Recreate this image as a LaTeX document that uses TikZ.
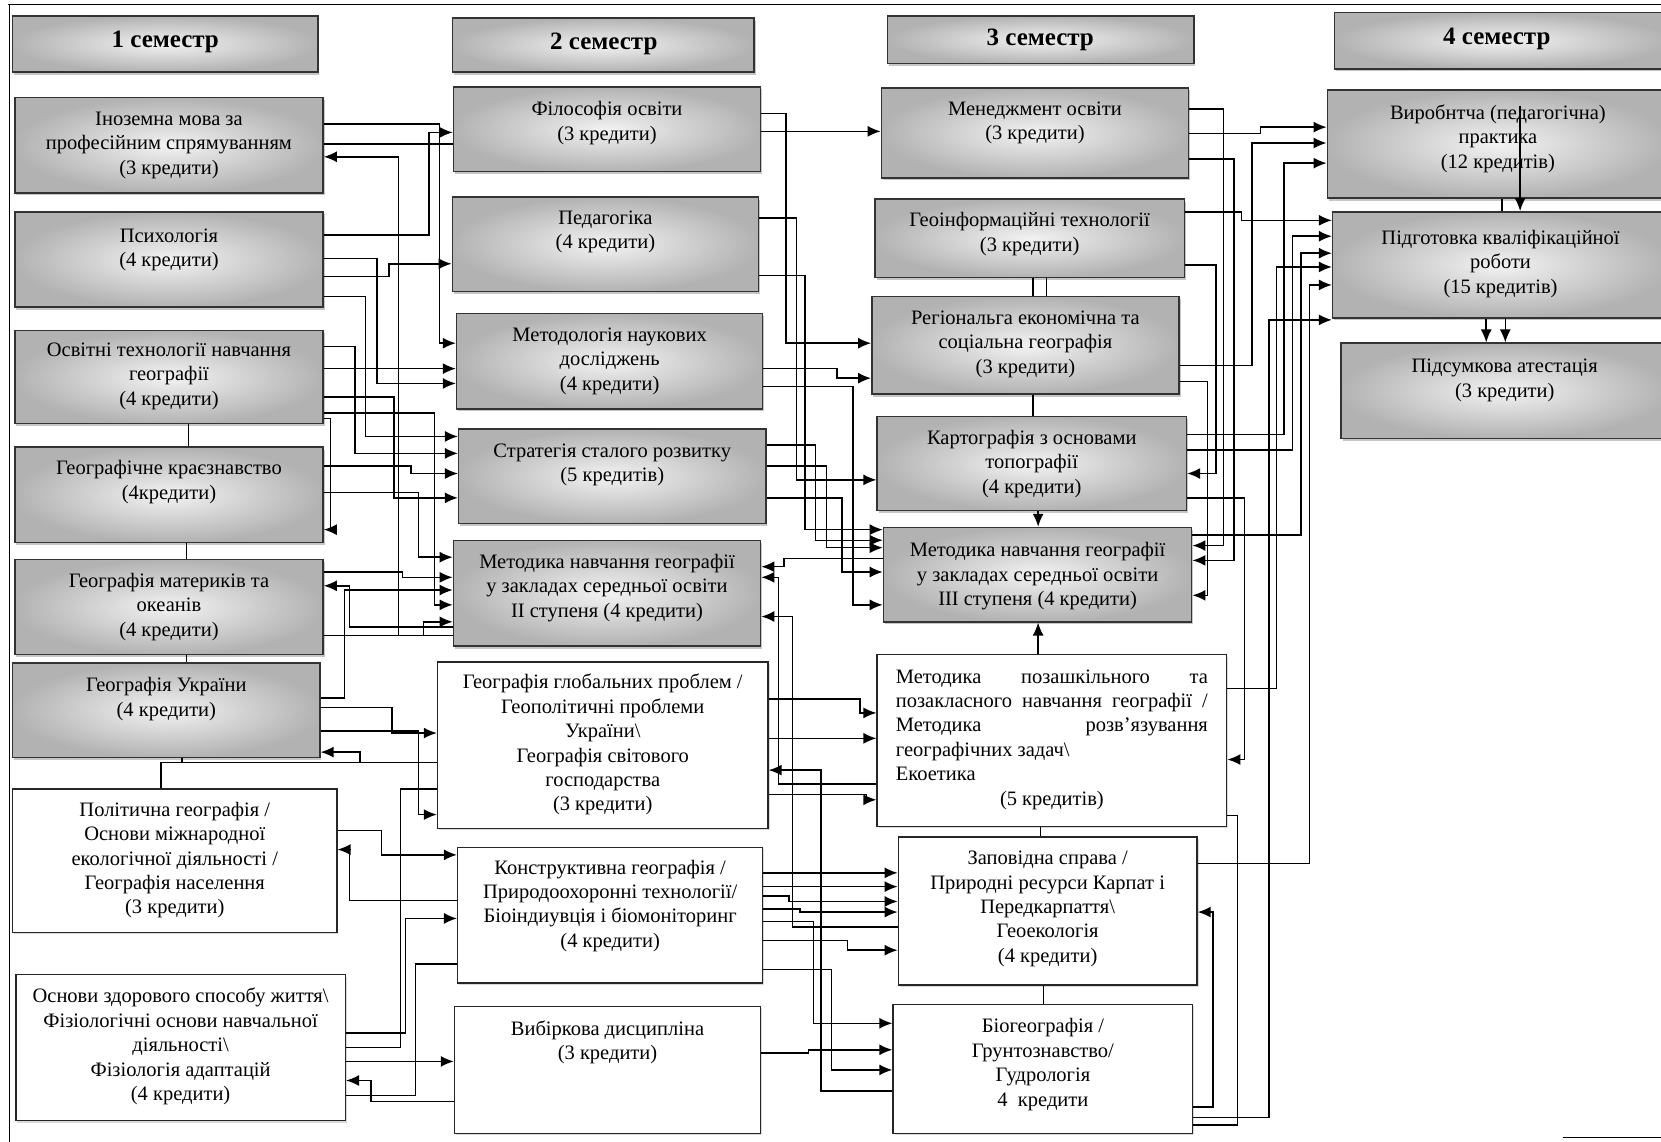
\documentclass[tikz,border=0pt]{standalone}
\usepackage{fontspec}
\setmainfont{Liberation Serif}
\usetikzlibrary{fit,shadows,arrows.meta,calc}
\newcommand\mkbox[8]{%
  \node[#1, fit={(#3,#4) (#5,#6)}] (#2) {};
  \node[txt] (#2t) at ({(#3+#5)/2},#7) {#8};}
\newcommand\cnx[6][arr]{\draw[#1] (#2 |- 0,#3) -| (#4,#6) -- (#5 |- 0,#6);}
\begin{document}
\begin{tikzpicture}[x=1.0593pt, y={(0pt,-1.0593pt)},
  gbox/.style={draw=black!80, line width=1.5pt, inner sep=0pt, inner color=gray!10, outer color=gray!60,
    drop shadow={shadow xshift=1.5pt, shadow yshift=-2.5pt, opacity=0.45, fill=gray}},
  wbox/.style={draw=black!85, line width=1.4pt, inner sep=0pt, fill=white,
    drop shadow={shadow xshift=1.5pt, shadow yshift=-2pt, opacity=0.3, fill=gray}},
  txt/.style={align=center, inner sep=0pt, font=\fontsize{20.5}{24.4}\selectfont},
  htxt/.style={align=center, inner sep=0pt, font=\bfseries\fontsize{25}{28}\selectfont},
  ln/.style={line width=1.5pt, black},
  arr/.style={ln, -{Latex[length=13pt,width=11pt]}},
  frame/.style={line width=1.2pt, black}]
\useasboundingbox (0,0) rectangle (1568,1078);
\draw[frame] (8,4) -- (1568,4);
\draw[frame] (9,4) -- (9,1078);
\draw[frame] (1475,1074) -- (1568,1074);
% headers
\node[gbox, fit={(12,15) (300,68)}] (h1) {};
\node[htxt] (h1t) at (156,40) {1 семестр};
\node[gbox, fit={(427,17) (712,68)}] (h2) {};
\node[htxt] (h2t) at (570,41) {2 семестр};
\node[gbox, fit={(838,15) (1127,60)}] (h3) {};
\node[htxt] (h3t) at (982,38) {3 семестр};
\node[gbox, fit={(1260,12) (1575,65)}] (h4) {};
\node[htxt] (h4t) at (1413,37) {4 семестр};
% column 1
\mkbox{gbox}{ino}{14}{92}{305}{182}{137}{Іноземна мова за\\професійним спрямуванням\\(3 кредити)}
\mkbox{gbox}{psy}{14}{200}{305}{290}{236}{Психологія\\(4 кредити)}
\mkbox{gbox}{osv}{14}{312}{305}{400}{355}{Освітні технології навчання\\географії\\(4 кредити)}
\mkbox{gbox}{kraj}{14}{422}{305}{512}{455}{Географічне краєзнавство\\(4кредити)}
\mkbox{gbox}{mat}{14}{528}{305}{618}{573}{Географія материків та\\океанів\\(4 кредити)}
\mkbox{gbox}{ukr}{12}{626}{302}{715}{660}{Географія України\\(4 кредити)}
\mkbox{wbox}{pol}{12}{745}{318}{880}{812}{Політична географія /\\Основи міжнародної\\екологічної діяльності /\\Географія населення\\(3 кредити)}
\mkbox{wbox}{osn}{15}{920}{326}{1058}{988}{Основи здорового способу життя\textbackslash\\Фізіологічні основи навчальної\\діяльності\textbackslash\\Фізіологія адаптацій\\(4 кредити)}
% column 2
\mkbox{gbox}{fil}{428}{82}{718}{162}{116}{Філософія освіти\\(3 кредити)}
\mkbox{gbox}{ped}{427}{186}{716}{275}{219}{Педагогіка\\(4 кредити)}
\mkbox{gbox}{metod}{431}{296}{720}{386}{341}{Методологія наукових\\досліджень\\(4 кредити)}
\mkbox{gbox}{str}{433}{405}{723}{494}{439}{Стратегія сталого розвитку\\(5 кредитів)}
\mkbox{gbox}{met2}{428}{510}{718}{610}{555}{Методика навчання географії\\у закладах середньої освіти\\II ступеня (4 кредити)}
\mkbox{wbox}{gg}{413}{625}{725}{782}{703}{Географія глобальних проблем /\\Геополітичні проблеми\\України\textbackslash\\Географія світового\\господарства\\(3 кредити)}
\mkbox{wbox}{kon}{432}{800}{720}{928}{855}{Конструктивна географія /\\Природоохоронні технології/\\Біоіндиувція і біомоніторинг\\(4 кредити)}
\mkbox{wbox}{vib}{429}{950}{718}{1070}{984}{Вибіркова дисципліна\\(3 кредити)}
% column 3
\mkbox{gbox}{men}{832}{83}{1122}{168}{116}{Менеджмент освіти\\(3 кредити)}
\mkbox{gbox}{geo}{826}{188}{1118}{262}{221}{Геоінформаційні технології\\(3 кредити)}
\mkbox{gbox}{reg}{823}{280}{1113}{372}{325}{Регіональга економічна та\\соціальна географія\\(3 кредити)}
\mkbox{gbox}{kart}{828}{393}{1120}{482}{438}{Картографія з основами\\топографії\\(4 кредити)}
\mkbox{gbox}{met3}{834}{498}{1125}{587}{544}{Методика навчання географії\\у закладах середньої освіти\\III ступеня (4 кредити)}
\node[wbox, fit={(828,618) (1158,780)}] (moz) {};
\node[txt, align=left] (mozt) at (993,698) {\parbox{312pt}{\hyphenpenalty=10000 \exhyphenpenalty=10000
Методика позашкільного та\linebreak позакласного навчання географії /\linebreak Методика розв'язування\linebreak географічних задач\textbackslash\\Екоетика\par\centering (5 кредитів)}};
\mkbox{wbox}{zap}{848}{790}{1130}{930}{858}{Заповідна справа /\\Природні ресурси Карпат і\\Передкарпаття\textbackslash\\Геоекологія\\(4 кредити)}
\mkbox{wbox}{bio}{843}{948}{1126}{1070}{1005}{Біогеографія /\\Грунтознавство/\\Гудрологія\\4~~кредити}
% column 4
\mkbox{gbox}{vyr}{1253}{85}{1575}{187}{131}{Виробнтча (педагогічна)\\практика\\(12 кредитів)}
\mkbox{gbox}{pid}{1258}{200}{1575}{300}{249}{Підготовка кваліфікаційної\\роботи\\(15 кредитів)}
\mkbox{gbox}{pids}{1266}{324}{1575}{414}{359}{Підсумкова атестація\\(3 кредити)}
% column 1 joins
\draw[ln] (osv.south -| 178,0) -- (kraj.north -| 178,0);
\draw[ln] (kraj.south -| 176,0) -- (mat.north -| 176,0);
\draw[ln] (mat.south -| 176,0) -- (ukr.north -| 176,0);
\draw[ln] (ukr.south -| 172,0) -- (172,720);
\draw[ln] (pol.north -| 152,0) |- (340,720);
% column 1 -> column 2
\cnx{psy.east}{222}{405}{fil.west}{125}
\cnx{ino.east}{117}{415}{metod.west}{324}
\draw[ln] (ino.east |- 0,136) -- (fil.west |- 0,136);
\cnx{psy.east}{261}{367}{ped.west}{249}
\draw[arr] (osv.east |- 0,348) -- (metod.west |- 0,348);
\cnx{psy.east}{244}{356}{metod.west}{362}
\cnx{psy.east}{280}{345}{str.west}{412}
\cnx{osv.east}{327}{335}{str.west}{428}
\cnx{kraj.east}{440}{388}{str.west}{447}
\cnx{osv.east}{375}{372}{str.west}{470}
\cnx{kraj.east}{465}{395}{met2.west}{526}
\cnx{mat.east}{540}{380}{met2.west}{545}
\cnx{ukr.east}{659}{325}{met2.west}{557}
\cnx{osv.east}{390}{410}{met2.west}{571}
\cnx{mat.east}{600}{400}{met2.west}{587}
\cnx{ukr.east}{668}{370}{gg.west}{692}
\cnx{ukr.east}{690}{395}{gg.west}{769}
\cnx{pol.east}{784}{360}{kon.west}{807}
\cnx{osn.east}{975}{383}{kon.west}{867}
\draw[arr] (osn.east |- 0,1002) -- (vib.west |- 0,1002);
\cnx[ln]{osn.east}{1034}{392}{kon.west}{910}
\cnx[ln]{osn.east}{989}{378}{gg.west}{745}
% into column 1
\cnx{met2.west}{600}{376}{ino.east}{148}
\cnx{osv.east}{395}{312}{kraj.east}{500}
\cnx{met2.west}{592}{330}{mat.east}{553}
\cnx{gg.west}{720}{340}{ukr.east}{710}
\cnx{kon.west}{850}{330}{pol.east}{802}
\cnx{vib.west}{1040}{350}{osn.east}{1020}
% column 2 -> column 3
\draw[arr] (fil.east |- 0,124) -- (men.west |- 0,124);
\cnx{fil.east}{107}{742}{reg.west}{324}
\cnx{metod.east}{348}{790}{reg.west}{357}
\cnx{ped.east}{206}{752}{kart.west}{453}
\cnx{ped.east}{260}{760}{met3.west}{500}
\cnx{str.east}{420}{770}{met3.west}{510}
\cnx{str.east}{440}{780}{met3.west}{517}
\cnx{str.east}{470}{795}{met3.west}{540}
\cnx{metod.east}{365}{805}{met3.west}{571}
\draw[arr] (gg.east |- 0,697) -- (moz.west |- 0,697);
\cnx{gg.east}{660}{812}{moz.west}{673}
\cnx{gg.east}{750}{818}{moz.west}{755}
\draw[arr] (kon.east |- 0,824) -- (zap.west |- 0,824);
\draw[arr] (kon.east |- 0,837) -- (zap.west |- 0,837);
\cnx{kon.east}{846}{745}{zap.west}{851}
\cnx{kon.east}{858}{755}{zap.west}{861}
\cnx{kon.east}{870}{768}{bio.west}{966}
\cnx{kon.east}{888}{800}{zap.west}{897}
\cnx{vib.east}{994}{763}{bio.west}{991}
\cnx{kon.east}{915}{785}{bio.west}{1010}
% into column 2 (right side)
\cnx{met3.west}{527}{740}{met2.east}{535}
\cnx{moz.west}{740}{735}{met2.east}{545}
\cnx{zap.west}{875}{748}{met2.east}{582}
\cnx{bio.west}{1030}{775}{gg.east}{727}
% column 3 joins
\draw[ln] (geo.south -| 975,0) -- (reg.north -| 975,0);
\draw[ln] (geo.south -| 988,0) -- (reg.north -| 988,0);
\draw[ln] (reg.south -| 975,0) -- (kart.north -| 975,0);
\draw[arr] (kart.south -| 980,0) -- (met3.north -| 980,0);
\draw[arr] (moz.north -| 980,0) -- (met3.south -| 980,0);
\draw[ln] (moz.south -| 982,0) -- (zap.north -| 982,0);
\draw[ln] (zap.south -| 985,0) -- (bio.north -| 985,0);
% column 3 -> column 4
\cnx{men.east}{126}{1190}{vyr.west}{120}
\cnx{reg.east}{345}{1182}{vyr.west}{135}
\cnx{kart.east}{410}{1212}{vyr.west}{154}
\cnx{geo.east}{200}{1172}{pid.west}{208}
\cnx{kart.east}{425}{1220}{pid.west}{223}
\cnx{met3.east}{505}{1228}{pid.west}{239}
\cnx{moz.east}{650}{1205}{pid.west}{252}
\cnx{zap.east}{815}{1236}{pid.west}{269}
\cnx{bio.east}{1055}{1198}{pid.west}{302}
% into column 3 (right side)
\cnx{men.east}{103}{1155}{met3.east}{515}
\cnx{men.east}{150}{1165}{met3.east}{529}
\cnx{geo.east}{250}{1148}{kart.east}{447}
\cnx{reg.east}{360}{1140}{met3.east}{562}
\cnx{kart.east}{470}{1175}{moz.east}{717}
\cnx{bio.east}{1045}{1145}{zap.east}{861}
\cnx[ln]{moz.east}{770}{1168}{bio.east}{1062}
% column 4 internal
\coordinate (vyrtop) at (1435,100);
\draw[arr] (vyrtop) -- (pid.north -| 1435,0);
\draw[ln] (vyr.south -| 1418,0) -- (pid.north -| 1418,0);
\draw[arr] (pid.south -| 1403,0) -- (pids.north -| 1403,0);
\draw[arr] (pid.south -| 1421,0) -- (pids.north -| 1421,0);
\end{tikzpicture}
\end{document}
